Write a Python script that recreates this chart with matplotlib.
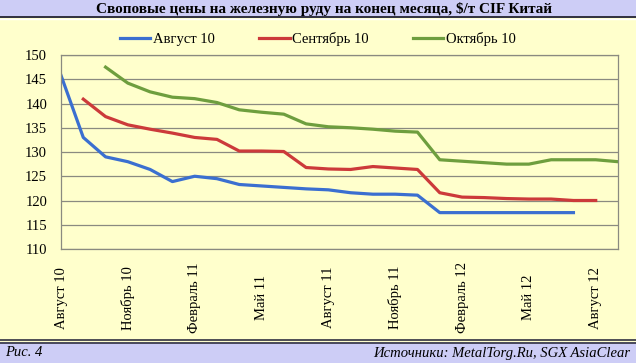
# swap prices chart

import numpy as np
import matplotlib.pyplot as plt
from matplotlib.patches import Rectangle
from matplotlib.lines import Line2D

plt.rcParams['font.family'] = ['Liberation Serif', 'DejaVu Serif']

# Months on the category axis (Aug 10 .. Sep 12)
months = ['Август 10', 'Сентябрь 10', 'Октябрь 10', 'Ноябрь 10', 'Декабрь 10',
          'Январь 11', 'Февраль 11', 'Март 11', 'Апрель 11', 'Май 11', 'Июнь 11',
          'Июль 11', 'Август 11', 'Сентябрь 11', 'Октябрь 11', 'Ноябрь 11',
          'Декабрь 11', 'Январь 12', 'Февраль 12', 'Март 12', 'Апрель 12',
          'Май 12', 'Июнь 12', 'Июль 12', 'Август 12', 'Сентябрь 12']

# Swap curves, $/t, first value belongs to the series' own month
aug10 = [145.8, 133.0, 129.0, 128.0, 126.4, 123.9, 125.0, 124.5, 123.3, 123.0,
         122.7, 122.4, 122.2, 121.6, 121.3, 121.3, 121.1, 117.5, 117.5, 117.5,
         117.5, 117.5, 117.5, 117.5]
sep10 = [140.9, 137.3, 135.6, 134.7, 133.9, 133.0, 132.6, 130.2, 130.2, 130.1,
         126.8, 126.5, 126.4, 127.0, 126.7, 126.4, 121.6, 120.7, 120.6, 120.4,
         120.3, 120.3, 120.0, 120.0]
oct10 = [147.5, 144.2, 142.4, 141.3, 141.0, 140.2, 138.7, 138.2, 137.8, 135.8,
         135.2, 135.0, 134.7, 134.3, 134.1, 128.4, 128.1, 127.8, 127.5, 127.5,
         128.4, 128.4, 128.4, 128.0]

series = [('Август 10', aug10, '#3b6fd0'),
          ('Сентябрь 10', sep10, '#cc3a3a'),
          ('Октябрь 10', oct10, '#6e9e3e')]

bg = '#ffffcc'
bar = '#cdcdf6'

fig = plt.figure(figsize=(6.36, 3.63), dpi=100)
fig.patch.set_facecolor(bg)

# header / footer bars
fig.patches.append(Rectangle((0, 1 - 16.5 / 363), 1, 16.5 / 363, transform=fig.transFigure,
                             facecolor=bar, edgecolor='none', zorder=0))
fig.patches.append(Rectangle((0, 0), 1, 20 / 363, transform=fig.transFigure,
                             facecolor=bar, edgecolor='none', zorder=0))
for yy, c, lw in [(16.8, '#303040', 1.4), (19.0, '#ffffff', 1.0),
                  (340.0, '#303040', 1.2), (341.8, '#e0e0f0', 0.8), (343.2, '#303040', 1.2)]:
    fig.add_artist(Line2D([0, 1], [1 - yy / 363, 1 - yy / 363], transform=fig.transFigure,
                          color=c, lw=lw))

ax = fig.add_axes([61 / 636, 1 - 249 / 363, (618 - 61) / 636, (249 - 55) / 363])
ax.set_facecolor(bg)

x = np.arange(len(months))
for name, vals, color in series:
    start = months.index(name)
    y = np.full(len(months), np.nan)
    y[start:start + len(vals)] = vals
    ax.plot(x, y, color=color, lw=2.3, label=name, solid_joinstyle='round')

ax.set_xlim(0, len(months) - 1)
ax.set_ylim(110, 150)
ax.set_yticks(np.arange(110, 151, 5))
ax.yaxis.grid(True, color='#8a8a80', lw=0.9)
ax.set_axisbelow(True)
for s in ax.spines.values():
    s.set_color('#8a8a80')
    s.set_linewidth(0.9)

ax.set_xticks(x[::3])
ax.set_xticklabels(months[::3], rotation=90, va='center', ha='center')
ax.tick_params(axis='x', length=0, pad=35, labelsize=10.5)
ax.tick_params(axis='y', length=0, pad=10, labelsize=10.5)

fig.legend(loc='center', bbox_to_anchor=(0.5, 1 - 39 / 363), ncol=3, frameon=False,
           fontsize=10.5, handlelength=2.1, handletextpad=0.2, columnspacing=3.0)

fig.text(324 / 636, 1 - 8.5 / 363, 'Своповые цены на железную руду на конец месяца, \\$/т CIF Китай',
         ha='center', va='center', fontsize=11, fontweight='bold')
fig.text(5 / 636, 10 / 363, 'Рис. 4', ha='left', va='center', fontsize=10.5, style='italic')
fig.text(630 / 636, 10 / 363, 'Источники: MetalTorg.Ru, SGX AsiaClear', ha='right', va='center',
         fontsize=10.5, style='italic')

fig.savefig('out.png', dpi=100, facecolor=fig.get_facecolor())
